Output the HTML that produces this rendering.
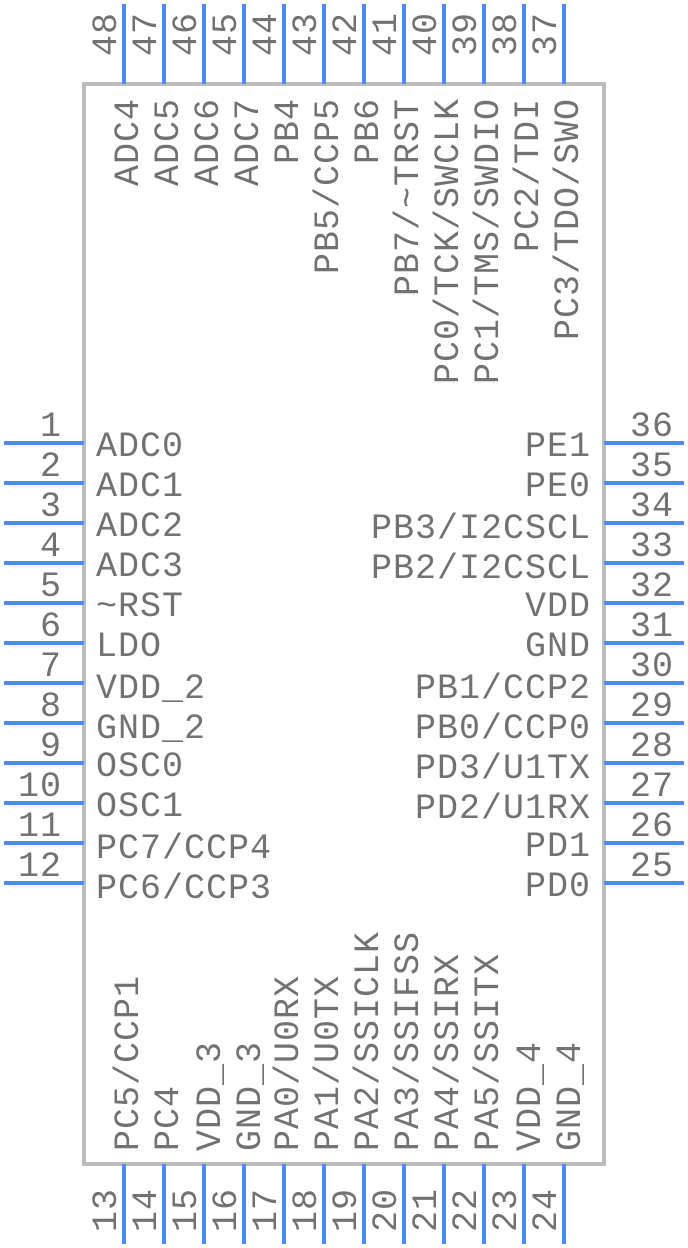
<!DOCTYPE html>
<html><head><meta charset="utf-8"><style>
html,body{margin:0;padding:0;background:#fff}
svg{display:block}
text{font-family:"Liberation Mono",monospace;font-size:35px;fill:#727272;letter-spacing:1px}
.b{stroke:#4a8cf0;stroke-width:4}
</style></head><body>
<svg width="688" height="1248" viewBox="0 0 688 1248">
<rect x="84" y="84" width="520" height="1080" fill="#fff" stroke="#bdbdbd" stroke-width="4"/>
<g class="b">
<line x1="4" y1="443" x2="84" y2="443"/><line x1="4" y1="483" x2="84" y2="483"/><line x1="4" y1="523" x2="84" y2="523"/><line x1="4" y1="563" x2="84" y2="563"/><line x1="4" y1="603" x2="84" y2="603"/><line x1="4" y1="643" x2="84" y2="643"/><line x1="4" y1="683" x2="84" y2="683"/><line x1="4" y1="723" x2="84" y2="723"/><line x1="4" y1="763" x2="84" y2="763"/><line x1="4" y1="803" x2="84" y2="803"/><line x1="4" y1="843" x2="84" y2="843"/><line x1="4" y1="883" x2="84" y2="883"/>
<line x1="604" y1="443" x2="684" y2="443"/><line x1="604" y1="483" x2="684" y2="483"/><line x1="604" y1="523" x2="684" y2="523"/><line x1="604" y1="563" x2="684" y2="563"/><line x1="604" y1="603" x2="684" y2="603"/><line x1="604" y1="643" x2="684" y2="643"/><line x1="604" y1="683" x2="684" y2="683"/><line x1="604" y1="723" x2="684" y2="723"/><line x1="604" y1="763" x2="684" y2="763"/><line x1="604" y1="803" x2="684" y2="803"/><line x1="604" y1="843" x2="684" y2="843"/><line x1="604" y1="883" x2="684" y2="883"/>
<line x1="124" y1="4" x2="124" y2="84"/><line x1="164" y1="4" x2="164" y2="84"/><line x1="204" y1="4" x2="204" y2="84"/><line x1="244" y1="4" x2="244" y2="84"/><line x1="284" y1="4" x2="284" y2="84"/><line x1="324" y1="4" x2="324" y2="84"/><line x1="364" y1="4" x2="364" y2="84"/><line x1="404" y1="4" x2="404" y2="84"/><line x1="444" y1="4" x2="444" y2="84"/><line x1="484" y1="4" x2="484" y2="84"/><line x1="524" y1="4" x2="524" y2="84"/><line x1="564" y1="4" x2="564" y2="84"/>
<line x1="124" y1="1164" x2="124" y2="1244"/><line x1="164" y1="1164" x2="164" y2="1244"/><line x1="204" y1="1164" x2="204" y2="1244"/><line x1="244" y1="1164" x2="244" y2="1244"/><line x1="284" y1="1164" x2="284" y2="1244"/><line x1="324" y1="1164" x2="324" y2="1244"/><line x1="364" y1="1164" x2="364" y2="1244"/><line x1="404" y1="1164" x2="404" y2="1244"/><line x1="444" y1="1164" x2="444" y2="1244"/><line x1="484" y1="1164" x2="484" y2="1244"/><line x1="524" y1="1164" x2="524" y2="1244"/><line x1="564" y1="1164" x2="564" y2="1244"/>
</g>
<g text-anchor="end">
<text x="62" y="436">1</text><text x="62" y="476">2</text><text x="62" y="516">3</text><text x="62" y="556">4</text><text x="62" y="596">5</text><text x="62" y="636">6</text><text x="62" y="676">7</text><text x="62" y="716">8</text><text x="62" y="756">9</text><text x="62" y="796">10</text><text x="62" y="836">11</text><text x="62" y="876">12</text>
</g>
<g>
<text x="96" y="456">ADC0</text><text x="96" y="496">ADC1</text><text x="96" y="536">ADC2</text><text x="96" y="576">ADC3</text><text x="96" y="616">~RST</text><text x="96" y="656">LDO</text><text x="96" y="698">VDD_2</text><text x="96" y="738">GND_2</text><text x="96" y="776">OSC0</text><text x="96" y="816">OSC1</text><text x="96" y="858">PC7/CCP4</text><text x="96" y="898">PC6/CCP3</text>
<text x="630" y="436">36</text><text x="630" y="476">35</text><text x="630" y="516">34</text><text x="630" y="556">33</text><text x="630" y="596">32</text><text x="630" y="636">31</text><text x="630" y="676">30</text><text x="630" y="716">29</text><text x="630" y="756">28</text><text x="630" y="796">27</text><text x="630" y="836">26</text><text x="630" y="876">25</text>
</g>
<g text-anchor="end">
<text x="591" y="456">PE1</text><text x="591" y="496">PE0</text><text x="591" y="538">PB3/I2CSCL</text><text x="591" y="578">PB2/I2CSCL</text><text x="591" y="616">VDD</text><text x="591" y="656">GND</text><text x="591" y="698">PB1/CCP2</text><text x="591" y="738">PB0/CCP0</text><text x="591" y="778">PD3/U1TX</text><text x="591" y="818">PD2/U1RX</text><text x="591" y="856">PD1</text><text x="591" y="896">PD0</text>
</g>
<g>
<text transform="translate(116,56) rotate(-90)">48</text><text transform="translate(156,56) rotate(-90)">47</text><text transform="translate(196,56) rotate(-90)">46</text><text transform="translate(236,56) rotate(-90)">45</text><text transform="translate(276,56) rotate(-90)">44</text><text transform="translate(316,56) rotate(-90)">43</text><text transform="translate(356,56) rotate(-90)">42</text><text transform="translate(396,56) rotate(-90)">41</text><text transform="translate(436,56) rotate(-90)">40</text><text transform="translate(476,56) rotate(-90)">39</text><text transform="translate(516,56) rotate(-90)">38</text><text transform="translate(556,56) rotate(-90)">37</text>
<text transform="translate(116,1232) rotate(-90)">13</text><text transform="translate(156,1232) rotate(-90)">14</text><text transform="translate(196,1232) rotate(-90)">15</text><text transform="translate(236,1232) rotate(-90)">16</text><text transform="translate(276,1232) rotate(-90)">17</text><text transform="translate(316,1232) rotate(-90)">18</text><text transform="translate(356,1232) rotate(-90)">19</text><text transform="translate(396,1232) rotate(-90)">20</text><text transform="translate(436,1232) rotate(-90)">21</text><text transform="translate(476,1232) rotate(-90)">22</text><text transform="translate(516,1232) rotate(-90)">23</text><text transform="translate(556,1232) rotate(-90)">24</text>
</g>
<g text-anchor="end">
<text transform="translate(138,98) rotate(-90)">ADC4</text><text transform="translate(178,98) rotate(-90)">ADC5</text><text transform="translate(218,98) rotate(-90)">ADC6</text><text transform="translate(258,98) rotate(-90)">ADC7</text><text transform="translate(298,98) rotate(-90)">PB4</text><text transform="translate(338,98) rotate(-90)">PB5/CCP5</text><text transform="translate(378,98) rotate(-90)">PB6</text><text transform="translate(418,98) rotate(-90)">PB7/~TRST</text><text transform="translate(458,98) rotate(-90)">PC0/TCK/SWCLK</text><text transform="translate(498,98) rotate(-90)">PC1/TMS/SWDIO</text><text transform="translate(538,98) rotate(-90)">PC2/TDI</text><text transform="translate(578,98) rotate(-90)">PC3/TDO/SWO</text>
</g>
<g>
<text transform="translate(138,1151) rotate(-90)">PC5/CCP1</text><text transform="translate(178,1151) rotate(-90)">PC4</text><text transform="translate(220,1151) rotate(-90)">VDD_3</text><text transform="translate(260,1151) rotate(-90)">GND_3</text><text transform="translate(298,1151) rotate(-90)">PA0/U0RX</text><text transform="translate(338,1151) rotate(-90)">PA1/U0TX</text><text transform="translate(378,1151) rotate(-90)">PA2/SSICLK</text><text transform="translate(418,1151) rotate(-90)">PA3/SSIFSS</text><text transform="translate(458,1151) rotate(-90)">PA4/SSIRX</text><text transform="translate(498,1151) rotate(-90)">PA5/SSITX</text><text transform="translate(540,1151) rotate(-90)">VDD_4</text><text transform="translate(580,1151) rotate(-90)">GND_4</text>
</g>
</svg>
</body></html>
